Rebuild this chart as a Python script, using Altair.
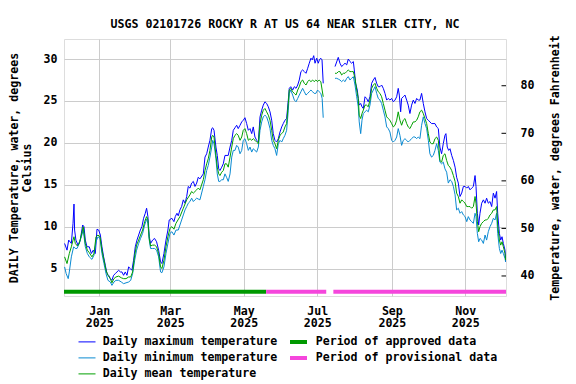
import altair as alt
import pandas as pd

TITLE = "USGS 02101726 ROCKY R AT US 64 NEAR SILER CITY, NC"
SERIES = ["Daily maximum temperature", "Daily minimum temperature", "Daily mean temperature"]
SERIES_COLORS = ["#0000ff", "#0a8ad2", "#00a000"]
PERIODS = ["Period of approved data", "Period of provisional data"]
PERIOD_COLORS = ["#009900", "#f546dc"]
PERIOD_START = ["2024-12-02T17:00:00", "2025-05-19T14:00:00", "2025-07-14T10:00:00"]
PERIOD_END = ["2025-05-19T14:00:00", "2025-07-08T12:00:00", "2025-12-04T19:00:00"]
PERIOD_KIND = [PERIODS[0], PERIODS[1], PERIODS[1]]
C_TICKS = [5, 10, 15, 20, 25, 30]
F_TICKS = [40, 50, 60, 70, 80]
X_TICK_MONTHS = [1, 3, 5, 7, 9, 11]
GAP_AFTER_DAY = 190  # no record between early and mid July

# (days after 2025-01-01, degrees C)
MAX_PTS = [(-28.8,8.0),(-26.8,7.2),(-25.4,8.4),(-23.2,8.0),(-21.8,10.4),(-21.0,12.7),(-20.5,9.6),(-19.4,8.4),(-17.7,7.8),(-15.8,8.4),(-13.8,10.2),(-12.7,10.0),(-11.6,8.4),(-10.2,7.6),(-8.3,7.6),(-6.6,6.8),(-5.0,7.2),(-3.3,6.8),(-1.9,9.7),(-0.5,9.6),(0.9,9.0),(2.2,7.6),(3.6,6.4),(5.0,5.4),(6.4,4.4),(7.8,4.2),(9.2,3.8),(10.5,3.6),(11.9,4.2),(13.3,4.4),(14.7,4.6),(16.1,4.8),(17.5,4.6),(18.8,4.6),(20.2,4.2),(21.6,4.6),(23.0,4.2),(24.4,5.2),(25.8,5.0),(27.1,4.8),(28.5,6.0),(29.9,7.6),(31.3,8.4),(32.7,9.0),(34.1,9.6),(35.4,10.0),(36.8,11.0),(38.2,11.6),(39.3,12.2),(40.4,11.2),(41.5,8.8),(42.6,8.0),(44.3,8.4),(45.9,8.6),(47.6,8.2),(49.3,7.2),(50.9,5.8),(52.0,5.6),(53.7,6.8),(55.4,8.4),(57.0,9.6),(58.1,10.8),(60.3,11.0),(62.0,10.6),(63.1,11.2),(64.5,11.6),(65.6,11.3),(67.0,12.0),(68.4,12.4),(69.8,13.2),(71.2,12.8),(72.6,13.6),(73.9,14.8),(75.3,14.6),(76.7,15.2),(78.1,15.4),(79.5,14.8),(80.9,15.2),(82.2,15.9),(83.6,15.7),(86.4,16.3),(87.8,18.3),(89.2,18.7),(90.5,19.5),(91.9,20.3),(93.4,21.7),(94.2,21.8),(95.3,21.5),(96.9,19.5),(98.0,18.5),(99.2,16.9),(100.2,16.7),(101.7,17.1),(103.0,17.5),(104.4,18.5),(107.1,18.5),(108.6,19.5),(110.0,20.3),(111.3,21.5),(112.7,21.8),(114.1,22.1),(115.4,21.7),(116.9,22.1),(118.3,22.5),(119.6,22.7),(121.0,23.0),(122.4,22.3),(123.8,21.5),(125.2,21.7),(126.6,21.1),(127.9,21.9),(129.3,20.7),(130.7,20.3),(132.1,20.1),(133.5,23.1),(134.9,23.9),(136.2,24.5),(137.6,24.9),(139.0,24.7),(140.4,24.3),(141.8,23.7),(143.2,22.7),(144.5,21.1),(145.9,20.3),(147.3,20.1),(148.7,20.5),(150.1,21.3),(151.5,21.9),(152.8,22.3),(154.2,22.7),(155.6,22.9),(157.0,25.1),(157.8,26.5),(159.0,26.7),(160.6,26.3),(162.0,26.7),(163.4,26.5),(164.8,26.9),(166.1,27.5),(167.5,28.5),(168.9,28.7),(170.3,28.5),(171.7,28.3),(173.1,28.9),(174.4,29.5),(175.8,30.1),(176.9,29.9),(178.1,30.4),(179.2,29.5),(180.6,30.1),(181.9,29.5),(182.8,29.9),(183.9,30.1),(185.0,29.9),(186.0,27.1),
    (195.8,29.1),(198.5,30.2),(199.9,29.5),(201.3,29.1),(202.7,29.3),(204.1,29.5),(205.5,29.3),(206.8,30.0),(208.2,29.7),(209.6,29.5),(211.0,29.7),(211.8,28.7),(212.9,27.1),(214.3,26.3),(215.1,25.3),(215.9,24.5),(217.1,24.7),(218.2,24.3),(219.3,24.1),(220.7,25.5),(222.0,25.3),(223.4,24.9),(224.8,25.5),(226.2,27.1),(227.6,27.5),(229.0,27.8),(230.4,27.1),(231.7,26.7),(233.1,26.7),(234.5,26.9),(235.9,26.5),(237.3,25.9),(238.7,25.1),(240.0,25.3),(241.4,25.1),(242.8,25.3),(244.2,24.9),(245.6,25.1),(247.0,25.5),(248.3,26.5),(249.2,25.7),(250.3,23.7),(251.1,25.3),(252.5,25.5),(253.9,25.7),(255.3,25.1),(256.6,24.5),(258.0,23.5),(259.4,24.5),(260.8,25.1),(262.2,24.7),(263.6,25.3),(264.9,25.1),(266.3,25.1),(267.7,25.9),(269.1,24.7),(270.5,23.7),(271.9,22.9),(273.3,22.7),(274.6,22.5),(276.0,22.3),(278.8,22.3),(280.2,21.9),(281.6,21.7),(282.9,19.5),(284.3,18.7),(285.7,19.9),(287.1,20.9),(287.9,21.1),(289.0,19.5),(290.2,19.1),(291.3,19.3),(292.7,18.5),(294.1,17.9),(295.5,17.1),(296.8,15.9),(298.2,15.2),(299.6,13.6),(301.0,14.0),(302.4,14.8),(303.8,14.8),(305.2,14.6),(306.5,14.8),(307.9,14.4),(309.3,14.6),(310.7,14.8),(312.1,16.1),(312.9,14.8),(314.0,11.6),(315.1,10.2),(316.2,11.6),(317.6,12.8),(319.0,13.2),(320.4,12.8),(321.7,13.4),(323.1,12.8),(324.5,13.0),(325.9,12.4),(327.3,14.0),(328.7,13.4),(330.0,14.2),(330.9,11.6),(332.3,9.2),(333.4,8.4),(334.5,8.8),(335.6,8.0),(337.0,7.2),(337.5,5.8)]

MIN_PTS = [(-28.8,5.2),(-27.5,4.4),(-25.8,3.8),(-24.9,4.6),(-23.2,6.4),(-21.3,7.6),(-19.9,7.4),(-18.5,7.4),(-16.6,8.0),(-14.9,8.8),(-13.3,9.6),(-11.6,7.6),(-9.9,6.8),(-8.3,6.4),(-6.1,6.1),(-4.4,6.6),(-2.7,8.2),(-1.1,8.8),(0.6,8.6),(2.2,6.8),(3.9,5.6),(5.6,4.4),(7.2,3.6),(9.2,3.4),(10.5,3.0),(12.2,3.4),(13.8,3.6),(16.1,3.6),(18.3,3.4),(20.2,3.2),(22.2,3.3),(24.4,3.4),(26.1,3.6),(27.7,4.4),(29.4,6.0),(31.0,7.2),(32.7,8.0),(34.3,8.6),(36.0,9.2),(37.7,10.2),(39.3,10.9),(40.4,10.4),(41.5,8.4),(42.6,7.4),(44.3,7.4),(45.9,7.4),(47.6,7.2),(49.3,6.4),(50.9,4.6),(52.0,4.5),(53.7,5.2),(55.4,6.8),(57.0,8.0),(58.7,9.2),(60.3,9.4),(62.0,9.0),(63.7,9.6),(65.6,9.6),(67.0,10.2),(68.4,10.8),(69.8,11.4),(71.2,12.0),(72.6,12.4),(73.9,12.8),(75.3,13.0),(76.7,13.4),(78.1,13.0),(79.5,13.2),(80.9,13.4),(82.2,13.3),(83.6,13.2),(86.4,14.8),(87.8,15.6),(89.2,16.7),(90.5,17.3),(91.9,18.3),(93.4,19.5),(94.2,20.3),(95.3,19.9),(96.9,18.1),(98.0,16.3),(99.2,15.4),(100.2,15.4),(101.7,15.6),(103.0,15.6),(104.4,16.3),(105.7,15.9),(107.1,15.4),(108.6,16.3),(110.0,18.3),(111.3,19.1),(112.7,19.1),(114.1,19.7),(115.4,19.5),(116.9,18.7),(118.3,19.1),(119.6,20.3),(121.0,20.5),(122.4,19.9),(123.8,19.1),(125.2,19.5),(126.6,18.9),(127.9,19.3),(129.3,19.1),(130.7,18.9),(132.1,19.5),(133.5,21.5),(134.9,22.5),(136.2,23.1),(137.6,23.3),(139.0,23.1),(140.4,22.5),(141.8,21.7),(143.2,20.3),(144.5,19.7),(145.9,19.3),(147.3,18.5),(148.7,19.9),(150.1,20.3),(151.5,20.1),(152.8,20.5),(154.2,20.9),(155.6,21.5),(157.0,23.9),(157.8,25.9),(159.0,26.3),(160.6,25.7),(162.0,25.1),(163.4,24.9),(164.8,25.3),(166.1,25.7),(167.5,26.1),(168.9,26.5),(170.3,26.1),(171.7,25.7),(173.1,25.9),(174.4,26.1),(175.8,26.3),(177.2,26.1),(178.5,25.9),(179.9,25.9),(181.3,26.3),(182.6,26.1),(184.0,25.9),(185.1,25.3),(186.0,23.0),
    (195.8,27.7),(197.2,27.7),(198.6,27.6),(199.9,27.5),(201.3,27.3),(202.7,27.5),(204.1,27.3),(205.5,27.7),(206.8,27.9),(208.2,27.5),(209.6,27.7),(211.0,27.9),(212.4,26.9),(213.8,25.5),(215.1,24.3),(215.9,22.5),(217.1,21.1),(218.2,22.7),(219.3,23.5),(220.7,23.7),(222.0,23.9),(223.4,23.7),(224.8,24.5),(226.2,25.9),(227.6,26.3),(229.0,26.7),(230.4,25.9),(231.7,25.3),(233.1,25.1),(234.5,24.7),(235.9,23.9),(237.3,23.1),(238.7,21.9),(240.0,21.7),(241.4,21.3),(242.8,20.3),(244.2,20.1),(245.6,20.3),(247.0,20.7),(248.3,21.7),(249.7,20.9),(251.1,19.7),(252.5,20.3),(253.9,20.5),(255.3,20.3),(256.6,20.1),(258.0,20.3),(259.4,20.5),(260.8,20.7),(262.2,20.7),(263.6,20.5),(264.9,20.7),(266.3,20.5),(267.7,22.1),(269.1,23.1),(270.5,22.3),(271.9,21.7),(273.3,20.3),(274.6,18.7),(276.0,18.3),(277.4,18.5),(278.8,19.1),(280.2,19.9),(281.6,19.1),(282.9,17.7),(284.3,17.5),(285.7,17.7),(287.1,16.9),(288.5,16.5),(289.9,15.2),(291.3,15.6),(292.7,15.4),(294.1,14.8),(295.5,13.8),(296.8,12.0),(298.2,12.2),(299.6,11.6),(301.0,11.8),(302.4,11.4),(303.8,11.2),(305.2,10.6),(306.5,11.2),(307.9,10.8),(309.3,10.6),(310.7,10.4),(312.1,11.6),(312.9,11.2),(314.0,9.2),(315.1,8.2),(316.2,8.6),(317.6,8.4),(319.0,8.0),(320.4,9.0),(321.7,8.4),(323.1,9.4),(324.5,10.0),(325.9,10.4),(327.3,11.0),(328.7,10.8),(330.0,11.6),(330.9,9.2),(332.3,7.4),(333.4,6.8),(334.5,7.2),(335.6,6.8),(337.0,6.2),(337.5,5.8)]

MEAN_PTS = [(-28.8,6.4),(-26.8,5.6),(-24.9,6.8),(-23.2,7.6),(-21.8,8.4),(-21.0,8.8),(-19.9,8.0),(-18.2,7.7),(-16.6,8.0),(-14.9,9.0),(-13.3,10.0),(-11.6,8.0),(-9.9,7.2),(-8.3,6.9),(-6.1,6.4),(-4.4,6.8),(-2.7,8.8),(-1.1,9.0),(0.6,8.8),(2.2,7.2),(3.9,6.0),(5.6,4.8),(7.2,4.2),(9.2,3.8),(10.5,3.3),(12.2,3.8),(13.8,4.0),(16.1,4.1),(18.3,3.9),(20.2,3.8),(22.2,3.8),(24.4,4.0),(26.1,4.0),(27.7,4.6),(29.4,6.6),(31.0,7.8),(32.7,8.4),(34.3,9.0),(36.0,9.6),(37.7,10.6),(39.3,11.2),(40.4,10.8),(41.5,8.6),(42.6,7.7),(44.3,7.8),(45.9,7.8),(47.6,7.6),(49.3,6.8),(50.9,5.2),(52.0,5.0),(53.7,6.0),(55.4,7.6),(57.0,8.8),(58.7,9.8),(60.3,10.0),(62.0,9.7),(63.7,10.4),(67.0,11.2),(69.8,12.2),(72.6,13.2),(75.3,13.8),(76.7,14.2),(78.1,14.0),(80.9,14.4),(82.2,14.6),(83.6,14.4),(86.4,15.6),(87.8,16.7),(89.2,17.5),(90.5,18.1),(91.9,19.1),(93.4,20.7),(94.2,20.9),(95.3,20.7),(96.9,18.5),(98.0,17.1),(99.2,16.3),(100.2,16.1),(101.7,16.5),(103.0,16.7),(104.4,17.5),(105.7,17.5),(107.1,17.1),(108.6,18.3),(110.0,19.5),(111.3,20.5),(112.7,20.9),(114.1,21.1),(115.4,20.9),(116.9,20.3),(118.3,20.7),(119.6,21.5),(121.0,21.7),(122.4,21.1),(123.8,20.3),(125.2,20.5),(126.6,20.3),(127.9,20.5),(129.3,20.3),(130.7,20.1),(132.1,19.9),(133.5,22.3),(134.9,23.3),(136.2,23.9),(137.6,24.1),(139.0,23.7),(140.4,23.3),(141.8,22.7),(143.2,21.5),(144.5,20.3),(145.9,19.9),(147.3,19.3),(148.7,20.3),(150.1,20.9),(151.5,21.1),(152.8,21.3),(154.2,21.9),(155.6,22.3),(157.0,24.7),(157.8,26.3),(159.0,26.5),(160.6,26.1),(162.0,25.9),(163.4,25.7),(164.8,26.3),(166.1,26.7),(167.5,27.3),(168.9,27.5),(170.3,27.1),(171.7,26.9),(173.1,27.3),(174.4,27.5),(175.8,27.3),(177.2,27.5),(178.5,27.3),(179.9,27.5),(181.3,27.3),(182.6,27.5),(184.0,27.3),(185.1,26.3),(186.0,25.5),
    (195.8,28.3),(197.2,28.3),(198.6,28.5),(199.9,28.5),(201.3,28.1),(202.7,28.3),(204.1,28.3),(205.5,28.5),(206.8,28.7),(208.2,28.5),(209.6,28.5),(211.0,28.5),(212.4,27.7),(213.8,26.3),(215.1,25.3),(215.9,23.3),(217.1,22.9),(218.2,23.5),(219.3,23.9),(220.7,24.5),(222.0,24.5),(223.4,24.3),(224.8,25.1),(226.2,26.5),(227.6,26.9),(229.0,27.1),(230.4,26.5),(231.7,26.1),(233.1,25.9),(234.5,25.5),(235.9,24.7),(237.3,23.9),(238.7,23.1),(240.0,22.9),(241.4,22.7),(242.8,22.3),(244.2,21.9),(245.6,22.1),(247.0,22.7),(248.3,23.7),(249.7,22.7),(251.1,22.1),(252.5,22.7),(253.9,22.9),(255.3,22.3),(256.6,21.9),(258.0,21.7),(259.4,22.1),(260.8,22.5),(262.2,22.5),(263.6,22.7),(264.9,23.1),(266.3,23.7),(267.7,23.9),(269.1,23.5),(270.5,22.9),(271.9,22.3),(273.3,21.1),(274.6,20.1),(276.0,19.9),(277.4,19.9),(278.8,20.5),(280.2,20.7),(281.6,20.3),(282.9,17.9),(284.3,17.7),(285.7,18.5),(287.1,18.7),(288.5,17.9),(289.9,17.3),(291.3,17.1),(292.7,16.7),(294.1,16.1),(295.5,15.4),(296.8,14.0),(298.2,13.6),(299.6,12.8),(301.0,13.2),(302.4,13.0),(303.8,12.8),(305.2,12.4),(306.5,12.4),(307.9,12.4),(309.3,12.2),(310.7,12.4),(312.1,13.6),(312.9,12.8),(314.0,10.6),(315.1,9.4),(316.2,10.0),(317.6,10.4),(319.0,10.6),(320.4,10.8),(321.7,10.8),(323.1,11.0),(324.5,11.4),(325.9,11.6),(327.3,12.0),(328.7,12.0),(330.0,12.4),(330.9,10.2),(332.3,8.4),(333.4,7.8),(334.5,8.2),(335.6,7.6),(337.0,6.8),(337.5,6.0)]

FONT = "DejaVu Sans Mono"
FS = 11.6
GRID = "#cccccc"

base = pd.Timestamp("2025-01-01")
rows = []
for name, pts in zip(SERIES, [MAX_PTS, MIN_PTS, MEAN_PTS]):
    for d, v in pts:
        rows.append({
            "date": base + pd.Timedelta(days=d),
            "temp": v,
            "series": name,
            "seg": name + ("-b" if d > GAP_AFTER_DAY else "-a"),
        })
lines_df = pd.DataFrame(rows)
bars_df = pd.DataFrame({"start": PERIOD_START, "end": PERIOD_END, "kind": PERIOD_KIND})
f_df = pd.DataFrame({"f": F_TICKS})

x_scale = alt.Scale(domain=[
    alt.DateTime(year=2024, month=12, date=2, hours=16, minutes=48),
    alt.DateTime(year=2025, month=12, date=4, hours=19, minutes=12),
])
x_axis = alt.Axis(
    values=[alt.DateTime(year=2025, month=m, date=1) for m in X_TICK_MONTHS],
    labelExpr="[timeFormat(datum.value, '%b'), timeFormat(datum.value, '%Y')]",
    title=None, ticks=False, domain=False, grid=True, gridColor=GRID, gridOpacity=1,
    labelPadding=9.6, labelLineHeight=12.3, labelAngle=0, labelAlign="center",
    labelBaseline="top", labelFont=FONT, labelFontSize=FS, labelFontWeight="bold",
    labelColor="black", labelFlush=False, labelOverlap=False,
)

def legend(x):
    return alt.Legend(title=None, orient="none", legendX=x, legendY=296,
                      direction="vertical", symbolType="stroke",
                      symbolSize=289, labelOffset=6.7,
                      rowPadding=2, clipHeight=13.8, padding=0,
                      labelFont=FONT, labelFontSize=FS, labelFontWeight="bold",
                      labelColor="black", labelLimit=400)

line_legend = legend(14)
line_legend["symbolStrokeWidth"] = 1
bar_legend = legend(224)
bar_legend["symbolStrokeWidth"] = 4

lines = alt.Chart(lines_df).mark_line(strokeWidth=1, clip=True).encode(
    x=alt.X("date:T", scale=x_scale, axis=x_axis),
    y=alt.Y("temp:Q",
            scale=alt.Scale(domain=[1.73, 32.39], nice=False, zero=False),
            axis=alt.Axis(values=C_TICKS, orient="left",
                          title=["DAILY Temperature, water, degrees", "Celsius"],
                          titleFont=FONT, titleFontSize=FS, titleFontWeight="bold",
                          titleColor="black", titlePadding=11, titleLineHeight=12.5,
                          ticks=False, domain=False, grid=True, gridColor=GRID, gridOpacity=1,
                          labelPadding=7, labelFont=FONT, labelFontSize=FS,
                          labelFontWeight="bold", labelColor="black")),
    color=alt.Color("series:N",
                    scale=alt.Scale(domain=SERIES, range=SERIES_COLORS),
                    legend=line_legend),
    detail="seg:N",
)

bars = alt.Chart(bars_df).mark_rule(strokeWidth=4).encode(
    x=alt.X("start:T", scale=x_scale, axis=x_axis),
    x2="end:T",
    y=alt.value(252.7),
    color=alt.Color("kind:N",
                    scale=alt.Scale(domain=PERIODS, range=PERIOD_COLORS),
                    legend=bar_legend),
)

fticks = alt.Chart(f_df).mark_rule(color="black", strokeWidth=1).encode(
    x=alt.value(437.5),
    x2=alt.value(442),
    y=alt.Y("f:Q",
            scale=alt.Scale(domain=[35.79, 89.83], nice=False, zero=False),
            axis=alt.Axis(values=F_TICKS, orient="right",
                          title="Temperature, water, degrees Fahrenheit",
                          titleAngle=270, titleBaseline="top",
                          titleFont=FONT, titleFontSize=FS, titleFontWeight="bold",
                          titleColor="black", titlePadding=15.3,
                          ticks=False, domain=False, grid=False,
                          labelPadding=14, labelFont=FONT, labelFontSize=FS,
                          labelFontWeight="bold", labelColor="black")),
)

chart = alt.layer(lines, bars, fticks).resolve_scale(
    y="independent", color="independent"
).properties(
    width=442,
    height=257,
    title=alt.TitleParams(text=TITLE, anchor="middle", frame="group", offset=4,
                          font=FONT, fontSize=FS, fontWeight="bold", color="black"),
    padding={"left": 56, "top": 31, "right": 62, "bottom": 86},
    autosize=alt.AutoSizeParams(type="none"),
).configure_view(stroke="black", strokeWidth=1, fill="white").configure(background="white")

chart.save("out.html", embed_options={"renderer": "svg", "actions": False})
